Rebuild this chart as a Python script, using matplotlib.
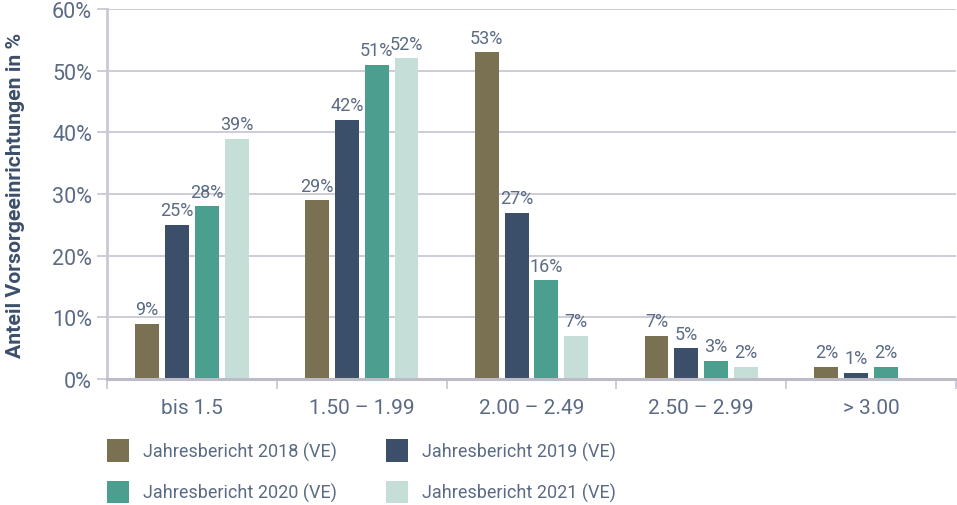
import numpy as np
import matplotlib
matplotlib.use("Agg")
import matplotlib.pyplot as plt
from matplotlib.patches import Patch

plt.rcParams['font.family'] = ['Roboto', 'DejaVu Sans']

categories = ["bis 1.5", "1.50 – 1.99", "2.00 – 2.49", "2.50 – 2.99", "> 3.00"]
series = ["Jahresbericht 2018 (VE)", "Jahresbericht 2019 (VE)",
          "Jahresbericht 2020 (VE)", "Jahresbericht 2021 (VE)"]
v2018 = [9, 29, 53, 7, 2]
v2019 = [25, 42, 27, 5, 1]
v2020 = [28, 51, 16, 3, 2]
v2021 = [39, 52, 7, 2, np.nan]
colors = ["#7a7052", "#3b4f6b", "#4a9f8f", "#c5ded7"]

txt = "#5b6b84"
grid = "#cac9d4"

fig = plt.figure(figsize=(9.57, 5.06), dpi=100)
ax = fig.add_axes([107/957, 126/506, 849/957, 370/506])

x = np.arange(len(categories))
step = 0.176
width = 0.141
for i, (vals, c) in enumerate(zip([v2018, v2019, v2020, v2021], colors)):
    pos = x + (i - 1.5) * step
    ax.bar(pos, vals, width=width, color=c, zorder=3)
    for p, v in zip(pos, vals):
        if not np.isnan(v):
            ax.annotate(f"{v:.0f}%", (p, v), xytext=(0, 4), textcoords="offset points",
                        ha="center", va="bottom", fontsize=13, color=txt)

ax.set_xlim(-0.5, len(categories) - 0.5)
ax.set_ylim(0, 60)
ax.set_yticks(range(0, 61, 10))
ax.set_yticklabels([f"{t}%" for t in range(0, 61, 10)])
ax.yaxis.grid(True, color=grid, linewidth=1.3, zorder=0)
ax.tick_params(axis="y", length=7.2, width=1.3, color=grid, pad=3.6,
               labelsize=15.5, labelcolor=txt)

ax.set_xticks(np.arange(-0.5, len(categories), 1.0))
ax.set_xticklabels([])
ax.set_xticks(x, minor=True)
ax.set_xticklabels(categories, minor=True)
ax.tick_params(axis="x", which="major", length=7, width=1.3, color=grid)
ax.tick_params(axis="x", which="minor", length=0, pad=14, labelsize=15, labelcolor=txt)

for s in ["top", "right"]:
    ax.spines[s].set_visible(False)
ax.spines["left"].set_color(grid)
ax.spines["left"].set_linewidth(2)
ax.spines["bottom"].set_color("#bdbcc6")
ax.spines["bottom"].set_linewidth(2.2)
ax.spines["bottom"].set_zorder(4)

ax.set_ylabel("Anteil Vorsorgeeinrichtungen in %", fontsize=15.3, fontweight="bold",
              color="#3b4f6b")
ax.yaxis.set_label_coords(-0.0966, 0.5)

handles = [Patch(facecolor=c, edgecolor="none") for c in colors]
order = [0, 2, 1, 3]
fig.legend([handles[i] for i in order], [series[i] for i in order], ncol=2,
           loc="upper left", bbox_to_anchor=(107/957, 1 - 440/506), frameon=False,
           borderpad=0, borderaxespad=0,
           fontsize=13, labelcolor=txt, handlelength=1.22, handleheight=1.55,
           handletextpad=0.78, columnspacing=2.7, labelspacing=1.05)

fig.savefig("out.png", dpi=100)
